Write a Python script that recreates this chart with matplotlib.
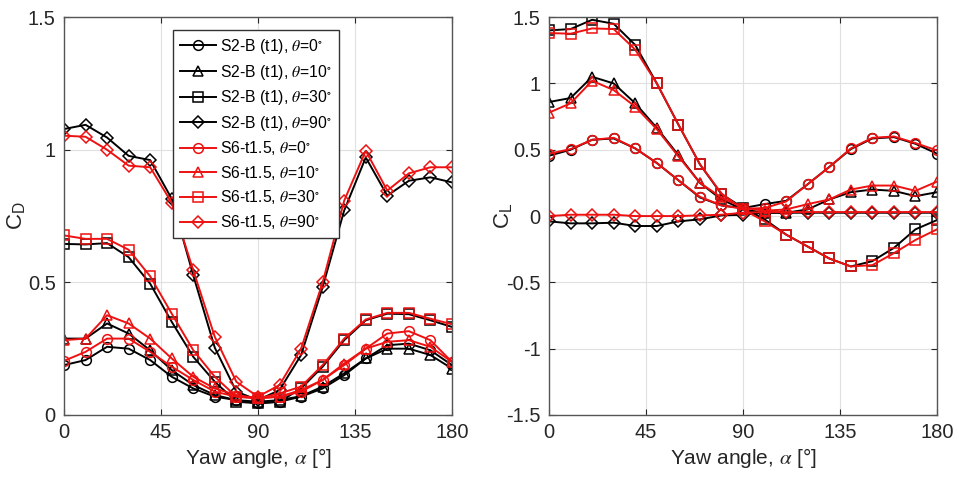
import matplotlib
matplotlib.use("Agg")
import matplotlib.pyplot as plt
import numpy as np

plt.rcParams['font.family'] = ['Liberation Sans', 'DejaVu Sans']
plt.rcParams['mathtext.fontset'] = 'stix'

# yaw angles
alpha = np.arange(0, 181, 10)
thetas = [0, 10, 30, 90]
markers = ['o', '^', 's', 'D']

# drag coefficient, S2-B (t1)
cd_s2 = {
    0: [0.188, 0.207, 0.257, 0.250, 0.207, 0.144, 0.100, 0.069, 0.056, 0.044,
        0.050, 0.069, 0.100, 0.150, 0.213, 0.263, 0.269, 0.244, 0.188],
    10: [0.288, 0.288, 0.345, 0.307, 0.244, 0.169, 0.113, 0.075, 0.056, 0.050,
         0.056, 0.071, 0.107, 0.157, 0.213, 0.250, 0.250, 0.226, 0.175],
    30: [0.645, 0.643, 0.648, 0.595, 0.495, 0.351, 0.219, 0.125, 0.050, 0.044,
         0.050, 0.100, 0.182, 0.282, 0.357, 0.382, 0.380, 0.357, 0.332],
    90: [1.078, 1.094, 1.046, 0.977, 0.961, 0.815, 0.526, 0.253, 0.088, 0.056,
         0.094, 0.226, 0.482, 0.771, 0.971, 0.827, 0.883, 0.896, 0.877],
}
# drag coefficient, S6-t1.5
cd_s6 = {
    0: [0.204, 0.238, 0.288, 0.288, 0.238, 0.182, 0.132, 0.088, 0.069, 0.063,
        0.069, 0.088, 0.132, 0.188, 0.250, 0.307, 0.316, 0.282, 0.200],
    10: [0.282, 0.288, 0.376, 0.345, 0.288, 0.213, 0.144, 0.100, 0.075, 0.063,
         0.069, 0.094, 0.132, 0.194, 0.250, 0.276, 0.282, 0.257, 0.200],
    30: [0.677, 0.664, 0.664, 0.623, 0.523, 0.382, 0.244, 0.144, 0.069, 0.063,
         0.081, 0.107, 0.188, 0.288, 0.360, 0.385, 0.385, 0.363, 0.342],
    90: [1.053, 1.049, 1.000, 0.940, 0.934, 0.800, 0.545, 0.294, 0.125, 0.069,
         0.113, 0.250, 0.500, 0.808, 0.996, 0.846, 0.911, 0.934, 0.934],
}
# lift coefficient, S2-B (t1)
cl_s2 = {
    0: [0.455, 0.500, 0.575, 0.585, 0.510, 0.400, 0.270, 0.140, 0.080, 0.060,
        0.090, 0.115, 0.240, 0.370, 0.505, 0.585, 0.595, 0.545, 0.470],
    10: [0.860, 0.890, 1.050, 1.000, 0.850, 0.665, 0.460, 0.250, 0.125, 0.050,
         0.025, 0.025, 0.050, 0.125, 0.180, 0.200, 0.190, 0.150, 0.180],
    30: [1.400, 1.410, 1.480, 1.450, 1.290, 1.000, 0.690, 0.390, 0.165, 0.063,
         -0.025, -0.140, -0.230, -0.320, -0.380, -0.340, -0.240, -0.100, -0.030],
    90: [-0.040, -0.055, -0.055, -0.050, -0.075, -0.075, -0.040, -0.025, 0.005, 0.010,
         0.025, 0.025, 0.025, 0.025, 0.025, 0.025, 0.025, 0.025, 0.025],
}
# lift coefficient, S6-t1.5
cl_s6 = {
    0: [0.470, 0.505, 0.575, 0.590, 0.510, 0.400, 0.270, 0.145, 0.080, 0.055,
        0.060, 0.110, 0.240, 0.370, 0.510, 0.590, 0.600, 0.550, 0.495],
    10: [0.780, 0.850, 1.020, 0.950, 0.825, 0.655, 0.450, 0.250, 0.140, 0.063,
         0.040, 0.050, 0.090, 0.125, 0.200, 0.230, 0.230, 0.190, 0.260],
    30: [1.380, 1.375, 1.415, 1.410, 1.255, 1.000, 0.690, 0.390, 0.170, 0.050,
         -0.040, -0.140, -0.230, -0.320, -0.380, -0.370, -0.280, -0.180, -0.100],
    90: [0.000, 0.010, 0.010, 0.010, 0.000, 0.000, 0.000, 0.005, 0.010, 0.025,
         0.030, 0.030, 0.030, 0.030, 0.030, 0.030, 0.030, 0.030, 0.030],
}

fig = plt.figure(figsize=(9.59, 4.84), dpi=100)
ax1 = fig.add_axes([0.0667, 0.1426, 0.4046, 0.822])
ax2 = fig.add_axes([0.5725, 0.1426, 0.4046, 0.822])

red = '#ee1111'
for ax, s2, s6 in [(ax1, cd_s2, cd_s6), (ax2, cl_s2, cl_s6)]:
    for th, m in zip(thetas, markers):
        ms = 6 if m == 'D' else 7
        ax.plot(alpha, s2[th], '-', color='black', marker=m, mfc='none',
                mec='black', ms=ms, lw=1.4, mew=1.1,
                label=r'S2-B (t1), $\theta$=' + str(th) + r'$^{\circ}$')
    for th, m in zip(thetas, markers):
        ms = 6 if m == 'D' else 7
        ax.plot(alpha, s6[th], '-', color=red, marker=m, mfc='none',
                mec=red, ms=ms, lw=1.4, mew=1.1,
                label=r'S6-t1.5, $\theta$=' + str(th) + r'$^{\circ}$')

    ax.set_xlim(0, 180)
    ax.set_xticks([0, 45, 90, 135, 180])
    ax.grid(True, color='#e0e0e0', lw=0.8)
    ax.set_axisbelow(True)
    ax.tick_params(direction='in', top=True, right=True, labelsize=14.5,
                   colors='#262626', length=4, pad=6)
    for sp in ax.spines.values():
        sp.set_color('#555555')
        sp.set_linewidth(1.0)
    ax.set_xlabel(r'Yaw angle, $\alpha$ [°]', fontsize=15, color='#262626', labelpad=3)

ax1.set_ylim(0, 1.5)
ax1.set_yticks([0, 0.5, 1, 1.5])
ax1.set_yticklabels(['0', '0.5', '1', '1.5'])
ax1.set_ylabel(r'$\mathregular{C_D}$', fontsize=16, color='#262626', labelpad=0)

ax2.set_ylim(-1.5, 1.5)
ax2.set_yticks([-1.5, -1, -0.5, 0, 0.5, 1, 1.5])
ax2.set_yticklabels(['-1.5', '-1', '-0.5', '0', '0.5', '1', '1.5'])
ax2.set_ylabel(r'$\mathregular{C_L}$', fontsize=16, color='#262626', labelpad=-6)

leg = ax1.legend(loc='upper left', bbox_to_anchor=(0.28, 0.968), fontsize=11.3,
                 frameon=True, fancybox=False, edgecolor='#333333',
                 handlelength=2.3, handletextpad=0.3, labelspacing=0.42,
                 borderpad=0.45, borderaxespad=0, framealpha=1)
leg.get_frame().set_linewidth(1.0)

fig.savefig('out.png', dpi=100)
